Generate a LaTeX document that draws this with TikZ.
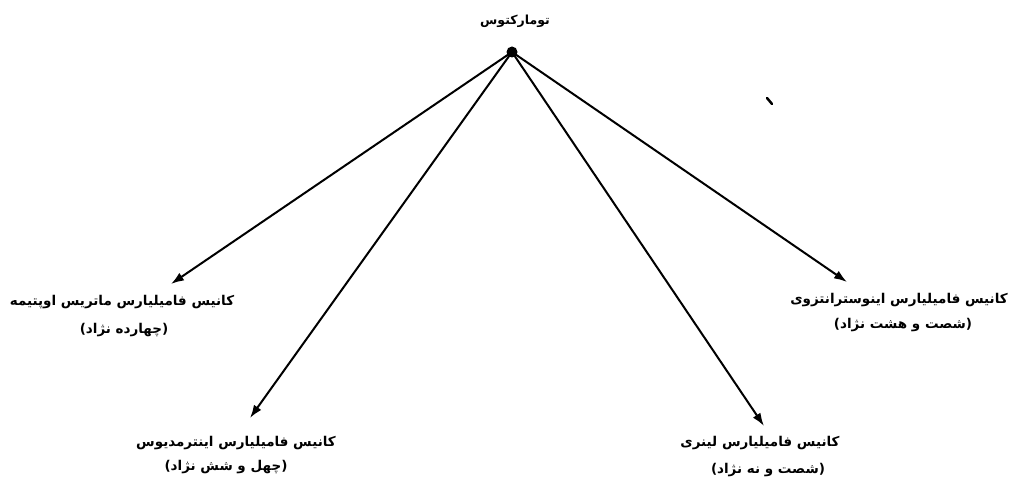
\documentclass[tikz,border=0pt]{standalone}
\usepackage{fontspec}
\newfontfamily\fa[Script=Arabic]{DejaVu Sans}
\TeXXeTstate=1
\usetikzlibrary{arrows.meta}
\tikzset{
  lbl/.style={font=\fa\bfseries\fontsize{13.5}{15}\selectfont, inner sep=0pt, align=center},
  toplbl/.style={lbl, font=\fa\bfseries\fontsize{12.5}{14}\selectfont},
  edge/.style={line width=2pt, -{Latex[length=13pt,width=9pt]}},
  root/.style={circle, fill=black, inner sep=0pt, minimum size=11pt}
}
\begin{document}
\begin{tikzpicture}[x=1pt,y=-1pt]
\useasboundingbox[fill=white] (0,0) rectangle (1013,486);
\node[toplbl] (top) at (515,21) {\beginR تومارکتوس\endR};
\coordinate (a1) at (171,284);
\coordinate (a2) at (250,418);
\coordinate (a3) at (764,426);
\coordinate (a4) at (847,282);
\coordinate (rc) at (512,52);
\draw[edge] (rc) -- (a1);
\draw[edge] (rc) -- (a2);
\draw[edge] (rc) -- (a3);
\draw[edge] (rc) -- (a4);
\node[root] (r) at (rc) {};
\node[lbl] (t1a) at (122,302) {\beginR کانیس فامیلیارس ماتریس اوپتیمه\endR};
\node[lbl] (t1b) at (124,330) {\beginR (چهارده نژاد)\endR};
\node[lbl] (t2a) at (236,443) {\beginR کانیس فامیلیارس اینترمدیوس\endR};
\node[lbl] (t2b) at (226,467) {\beginR (چهل و شش نژاد)\endR};
\node[lbl] (t3a) at (760,443) {\beginR کانیس فامیلیارس لینری\endR};
\node[lbl] (t3b) at (768,470) {\beginR (شصت و نه نژاد)\endR};
\node[lbl] (t4a) at (899,300) {\beginR کانیس فامیلیارس اینوسترانتزوی\endR};
\node[lbl] (t4b) at (903,325) {\beginR (شصت و هشت نژاد)\endR};
\draw[line width=2.5pt, line cap=round] (767,98) -- (772,104);
\end{tikzpicture}
\end{document}
